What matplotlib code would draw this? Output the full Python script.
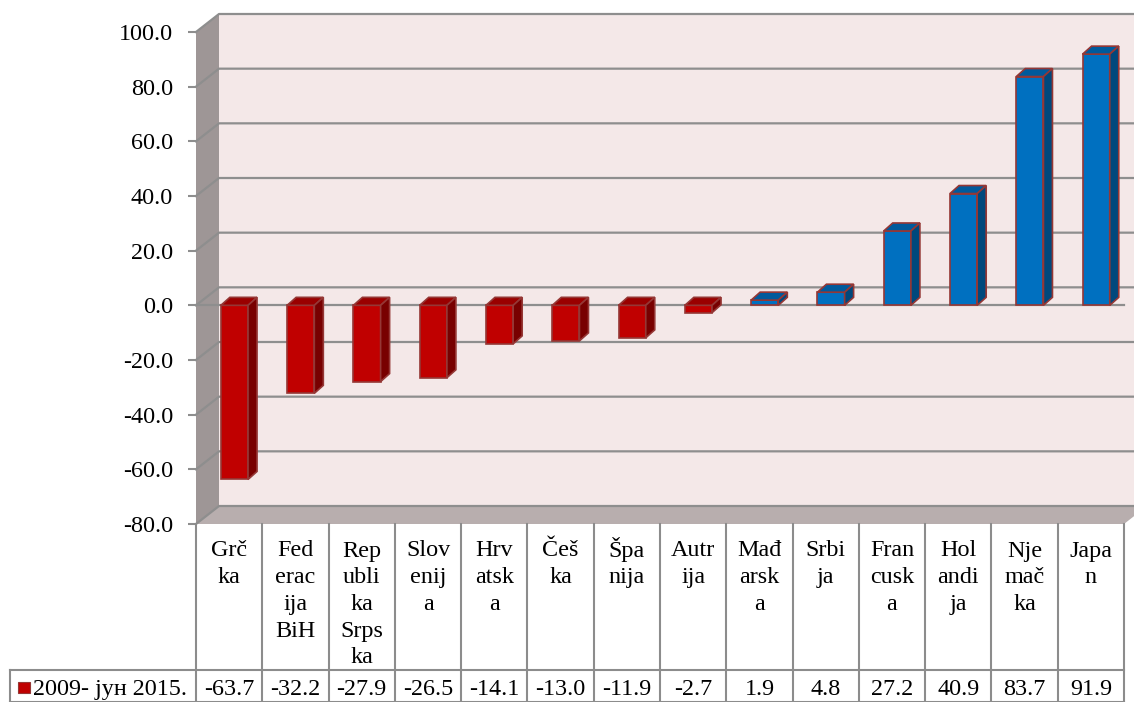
import matplotlib
matplotlib.use("Agg")
import matplotlib.pyplot as plt
from matplotlib.patches import Polygon, Rectangle
from matplotlib.lines import Line2D
from matplotlib.transforms import IdentityTransform, blended_transform_factory

# ---------------- data ----------------
categories = ["Grčka", "Federacija BiH", "Republika Srpska", "Slovenija", "Hrvatska",
              "Češka", "Španija", "Autrija", "Mađarska", "Srbija", "Francuska",
              "Holandija", "Njemačka", "Japan"]
category_lines = [["Grč", "ka"], ["Fed", "erac", "ija", "BiH"], ["Rep", "ubli", "ka", "Srps", "ka"],
                  ["Slov", "enij", "a"], ["Hrv", "atsk", "a"], ["Češ", "ka"], ["Špa", "nija"],
                  ["Autr", "ija"], ["Mađ", "arsk", "a"], ["Srbi", "ja"], ["Fran", "cusk", "a"],
                  ["Hol", "andi", "ja"], ["Nje", "mač", "ka"], ["Japa", "n"]]
values = [-63.7, -32.2, -27.9, -26.5, -14.1, -13.0, -11.9, -2.7, 1.9, 4.8, 27.2, 40.9, 83.7, 91.9]
series_name = "2009- јун 2015."
yticks = [-80, -60, -40, -20, 0, 20, 40, 60, 80, 100]

# ---------------- style ----------------
FONT = "Liberation Serif"
FS = 17.4
plt.rcParams["font.family"] = [FONT, "DejaVu Serif"]
W, H = 1134, 702
WALL_DX, WALL_DY = 23, 18
BAR_DX, BAR_DY = 9, 8
GRID = "#8E8E8E"
BACK = "#F4E8E8"
LWALL = "#9E9696"
FLOOR = "#B8AEAE"
EDGE = "#953735"
RED = ("#C00000", "#9A0000", "#780000")   # front, top, side
BLUE = ("#0070C0", "#005A9C", "#00487C")

fig = plt.figure(figsize=(W / 100, H / 100), dpi=100)
fig.patch.set_facecolor("white")
ax = fig.add_axes([196 / W, 1 - 524 / H, (1124 - 196) / W, (524 - 32) / H])
n = len(categories)
ax.set_xlim(-0.5, n - 0.5)
ax.set_ylim(yticks[0], yticks[-1])
ax.patch.set_visible(False)
for s in ax.spines.values():
    s.set_visible(False)
ax.set_xticks([])
ax.set_yticks(yticks)
ax.set_yticklabels([f"{v:.1f}" for v in yticks], fontsize=FS, family=FONT)
ax.tick_params(axis="y", length=6, width=1.5, color=GRID, pad=10.5)

ID = IdentityTransform()


def D(x, y, dx=0, dy=0):
    p = ax.transData.transform((x, y))
    return (p[0] + dx, p[1] + dy)


def poly(pts, fc, ec="none", lw=0, z=1):
    ax.add_patch(Polygon(pts, closed=True, facecolor=fc, edgecolor=ec, linewidth=lw,
                         transform=ID, clip_on=False, zorder=z))


def line(pts, color=GRID, lw=1.6, z=1.5):
    xs = [p[0] for p in pts]
    ys = [p[1] for p in pts]
    ax.add_line(Line2D(xs, ys, color=color, linewidth=lw, transform=ID, clip_on=False, zorder=z))


x0, x1 = -0.5, n - 0.5
ylo, yhi = yticks[0], yticks[-1]
# back wall
poly([D(x0, ylo, WALL_DX, WALL_DY), D(x1 + 1, ylo, WALL_DX, WALL_DY),
      D(x1 + 1, yhi, WALL_DX, WALL_DY), D(x0, yhi, WALL_DX, WALL_DY)], BACK, z=0.5)
# left wall
poly([D(x0, ylo), D(x0, yhi), D(x0, yhi, WALL_DX, WALL_DY), D(x0, ylo, WALL_DX, WALL_DY)], LWALL, z=0.6)
# floor
poly([D(x0, ylo), D(x1, ylo), D(x1, ylo, WALL_DX, WALL_DY), D(x0, ylo, WALL_DX, WALL_DY)], FLOOR, z=0.6)
# gridlines on walls
for yv in yticks:
    line([D(x0, yv), D(x0, yv, WALL_DX, WALL_DY), D(x1 + 1, yv, WALL_DX, WALL_DY)])
# zero axis line at the front
line([D(x0, 0), D(x1, 0)], z=1.6)

# bars
bw = 0.41
xs = [i + 0.08 for i in range(n)]
colors = [RED if v < 0 else BLUE for v in values]
ax.bar(xs, values, width=bw, color=[c[0] for c in colors], edgecolor=EDGE, linewidth=1.2, zorder=3)
for xc, v, c in zip(xs, values, colors):
    xl, xr = xc - bw / 2, xc + bw / 2
    yt = max(v, 0)
    yb = min(v, 0)
    poly([D(xl, yt), D(xr, yt), D(xr, yt, BAR_DX, BAR_DY), D(xl, yt, BAR_DX, BAR_DY)],
         c[1], EDGE, 1.2, z=3.1)
    poly([D(xr, yb), D(xr, yt), D(xr, yt, BAR_DX, BAR_DY), D(xr, yb, BAR_DX, BAR_DY)],
         c[2], EDGE, 1.2, z=3.1)

# ---------------- data table ----------------
bt = blended_transform_factory(ax.transData, ID)
TBL = "#8C8C8C"


def py(v):  # pixel-from-top to display y
    return H - v


row_top, row_mid, row_bot = 524, 670, 702
for k in range(n + 1):
    xk = D(x0 + k, 0)[0]
    line([(xk, py(row_top)), (xk, py(row_bot))], color=TBL, lw=1.5, z=2)
line([(10, py(row_mid)), (D(x1, 0)[0], py(row_mid))], color=TBL, lw=1.5, z=2)
line([(10, py(row_mid)), (10, py(row_bot))], color=TBL, lw=1.5, z=2)
line([(10, py(row_bot) + 0.5), (D(x1, 0)[0], py(row_bot) + 0.5)], color=TBL, lw=1.5, z=2)

for i, parts in enumerate(category_lines):
    for k, t in enumerate(parts):
        ax.text(i, py(556.5 + 26.7 * k), t, transform=bt, ha="center", va="baseline",
                fontsize=FS, family=FONT, clip_on=False)
for i, v in enumerate(values):
    ax.text(i, py(695), f"{v:.1f}", transform=bt, ha="center", va="baseline",
            fontsize=FS, family=FONT, clip_on=False)

# legend key
ax.add_patch(Rectangle((18, py(693)), 12, 11, facecolor=RED[0], edgecolor=EDGE, linewidth=0.8,
                       transform=ID, clip_on=False, zorder=3))
ax.text(33, py(695), series_name, transform=ID, ha="left", va="baseline",
        fontsize=FS, family=FONT, clip_on=False)

fig.savefig("out.png", dpi=100, facecolor="white")
